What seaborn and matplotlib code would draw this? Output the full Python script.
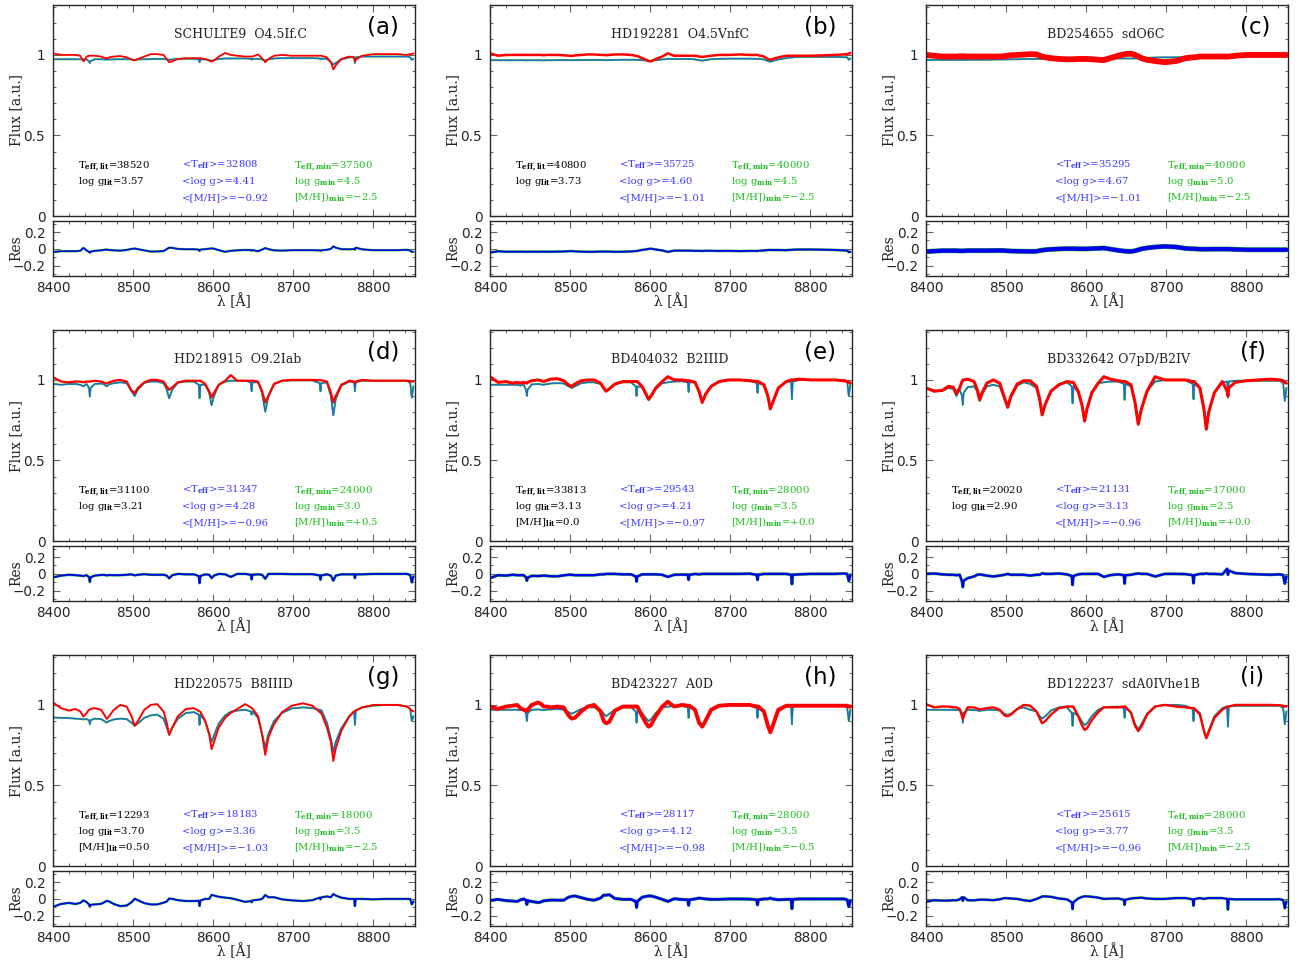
import numpy as np
import matplotlib.pyplot as plt
from matplotlib.ticker import MultipleLocator, FuncFormatter
import seaborn as sns

# wavelength grid (Angstrom) shared by all panels
WAVE = [8400, 8410, 8420, 8428, 8434, 8438, 8442, 8445, 8446, 8447,
        8452, 8460, 8464, 8467, 8470, 8476, 8484, 8492, 8498, 8502,
        8506, 8514, 8522, 8530, 8538, 8542, 8545, 8549, 8556, 8566,
        8576, 8582, 8583, 8584, 8590, 8595, 8598, 8601, 8607, 8615,
        8622, 8630, 8640, 8647, 8648, 8649, 8656, 8661, 8665, 8669,
        8676, 8686, 8698, 8712, 8724, 8733, 8734, 8735, 8742, 8747,
        8750, 8753, 8760, 8770, 8776, 8777, 8778, 8786, 8800, 8815,
        8830, 8842, 8846, 8848, 8850]

A_OBS = [1.01, 1.0, 1.0, 1.0, 0.995, 0.96, 0.99, 0.995, 0.995, 0.995,
         0.995, 0.99, 0.983, 0.978, 0.985, 0.99, 0.993, 0.985, 0.972, 0.965,
         0.975, 0.99, 1.005, 1.005, 1.0, 0.975, 0.955, 0.96, 0.975, 0.98,
         0.98, 0.98, 0.98, 0.98, 0.975, 0.965, 0.958, 0.965, 0.99, 1.012,
         1.0, 0.995, 0.99, 0.99, 0.99, 0.99, 1.003, 0.98, 0.955, 0.975,
         0.995, 1.0, 0.995, 0.995, 0.995, 0.995, 0.995, 0.995, 0.985, 0.955,
         0.91, 0.935, 0.975, 0.99, 0.985, 0.96, 0.97, 0.995, 1.005, 1.005,
         1.005, 1.0, 1.005, 1.005, 1.01]
A_MOD = [0.973, 0.973, 0.973, 0.973, 0.973, 0.972, 0.972, 0.96, 0.95, 0.962,
         0.973, 0.973, 0.972, 0.971, 0.972, 0.973, 0.973, 0.973, 0.972, 0.97,
         0.972, 0.973, 0.974, 0.975, 0.975, 0.972, 0.97, 0.972, 0.975, 0.976,
         0.976, 0.972, 0.955, 0.972, 0.972, 0.968, 0.964, 0.968, 0.975, 0.978,
         0.978, 0.978, 0.978, 0.976, 0.97, 0.976, 0.976, 0.972, 0.965, 0.972,
         0.978, 0.98, 0.98, 0.98, 0.98, 0.978, 0.972, 0.978, 0.975, 0.955,
         0.94, 0.95, 0.972, 0.985, 0.985, 0.95, 0.985, 0.99, 0.99, 0.99,
         0.99, 0.99, 0.985, 0.97, 0.975]

B_OBS = [1.01, 0.995, 1.0, 1.0, 1.0, 1.0, 1.0, 1.0, 1.0, 1.0,
         1.0, 1.0, 1.0, 0.998, 1.0, 1.0, 1.0, 0.998, 0.995, 0.993,
         0.997, 1.0, 1.003, 1.003, 1.0, 1.0, 0.998, 1.0, 1.003, 1.003,
         1.0, 0.995, 0.993, 0.993, 0.98, 0.97, 0.962, 0.96, 0.975, 0.99,
         1.01, 0.995, 0.995, 0.995, 0.995, 0.995, 0.995, 0.99, 0.988, 0.99,
         0.995, 1.0, 1.0, 1.003, 1.0, 1.0, 1.0, 0.998, 0.99, 0.975,
         0.97, 0.975, 0.985, 0.995, 0.995, 0.995, 0.995, 0.995, 0.995, 0.997,
         1.0, 1.003, 1.005, 1.008, 1.012]
B_MOD = [0.967, 0.967, 0.967, 0.967, 0.967, 0.967, 0.967, 0.967, 0.965, 0.967,
         0.967, 0.967, 0.967, 0.966, 0.967, 0.967, 0.968, 0.968, 0.968, 0.967,
         0.968, 0.968, 0.969, 0.969, 0.969, 0.968, 0.967, 0.968, 0.969, 0.97,
         0.97, 0.97, 0.968, 0.97, 0.968, 0.965, 0.962, 0.963, 0.968, 0.972,
         0.975, 0.975, 0.975, 0.975, 0.972, 0.975, 0.972, 0.968, 0.964, 0.968,
         0.973, 0.976, 0.977, 0.977, 0.977, 0.976, 0.975, 0.976, 0.972, 0.962,
         0.958, 0.962, 0.972, 0.98, 0.985, 0.982, 0.986, 0.988, 0.988, 0.988,
         0.988, 0.986, 0.985, 0.97, 0.978]

C_OBS = [1.0, 0.995, 0.99, 0.99, 0.99, 0.99, 0.992, 0.992, 0.992, 0.992,
         0.99, 0.99, 0.99, 0.99, 0.99, 0.99, 0.99, 0.99, 0.992, 0.995,
         0.998, 1.0, 1.002, 1.005, 1.003, 0.995, 0.99, 0.985, 0.98, 0.975,
         0.973, 0.973, 0.973, 0.973, 0.975, 0.975, 0.975, 0.975, 0.973, 0.97,
         0.968, 0.98, 0.995, 1.003, 1.005, 1.005, 1.008, 1.0, 0.99, 0.98,
         0.97, 0.962, 0.955, 0.962, 0.98, 0.985, 0.985, 0.985, 0.99, 0.99,
         0.99, 0.99, 0.99, 0.99, 0.99, 0.99, 0.99, 0.995, 1.0, 1.0,
         1.0, 1.0, 1.0, 1.0, 1.0]
C_MOD = [0.969, 0.969, 0.969, 0.969, 0.969, 0.969, 0.969, 0.969, 0.969, 0.969,
         0.97, 0.97, 0.97, 0.97, 0.97, 0.97, 0.971, 0.972, 0.972, 0.972,
         0.973, 0.973, 0.974, 0.975, 0.975, 0.975, 0.975, 0.975, 0.975, 0.975,
         0.976, 0.976, 0.976, 0.976, 0.976, 0.976, 0.976, 0.976, 0.977, 0.977,
         0.978, 0.978, 0.978, 0.978, 0.978, 0.978, 0.978, 0.978, 0.979, 0.98,
         0.982, 0.984, 0.985, 0.985, 0.986, 0.986, 0.986, 0.986, 0.987, 0.987,
         0.987, 0.987, 0.988, 0.988, 0.988, 0.988, 0.988, 0.989, 0.99, 0.99,
         0.99, 0.99, 0.99, 0.99, 0.99]

D_OBS = [1.017, 0.99, 0.985, 0.99, 0.99, 0.985, 0.99, 0.99, 0.99, 0.99,
         0.995, 0.99, 0.983, 0.978, 0.985, 0.995, 1.0, 0.99, 0.935, 0.917,
         0.95, 0.985, 1.0, 1.0, 0.99, 0.96, 0.938, 0.955, 0.985, 0.995,
         0.995, 0.995, 0.995, 0.995, 0.975, 0.93, 0.892, 0.92, 0.97, 0.995,
         1.03, 0.995, 0.995, 0.995, 0.995, 0.995, 0.99, 0.93, 0.86, 0.9,
         0.975, 0.995, 1.0, 1.0, 1.0, 0.998, 0.998, 0.998, 0.99, 0.92,
         0.86, 0.9, 0.97, 0.995, 0.99, 0.98, 0.99, 1.0, 0.995, 0.995,
         0.995, 0.995, 0.993, 0.99, 0.99]
D_MOD = [0.975, 0.97, 0.975, 0.975, 0.97, 0.96, 0.975, 0.95, 0.896, 0.95,
         0.975, 0.978, 0.972, 0.96, 0.972, 0.98, 0.985, 0.98, 0.93, 0.9,
         0.94, 0.982, 0.99, 0.99, 0.98, 0.94, 0.886, 0.94, 0.985, 0.99,
         0.99, 0.97, 0.886, 0.97, 0.97, 0.92, 0.843, 0.9, 0.97, 0.99,
         0.995, 0.995, 0.995, 0.985, 0.93, 0.985, 0.985, 0.92, 0.803, 0.9,
         0.975, 0.995, 0.997, 0.997, 0.997, 0.98, 0.93, 0.98, 0.985, 0.9,
         0.78, 0.88, 0.965, 0.99, 0.985, 0.93, 0.985, 0.995, 0.995, 0.995,
         0.995, 0.995, 0.98, 0.89, 0.96]

E_OBS = [1.02, 0.985, 0.99, 0.98, 0.985, 0.98, 0.985, 0.98, 0.98, 0.985,
         0.995, 1.0, 0.995, 0.99, 0.995, 1.005, 1.008, 0.995, 0.97, 0.96,
         0.975, 0.995, 1.0, 1.0, 0.98, 0.95, 0.93, 0.945, 0.975, 0.99,
         0.99, 0.99, 0.99, 0.99, 0.96, 0.91, 0.88, 0.9, 0.95, 0.99,
         1.02, 1.0, 1.0, 0.995, 0.995, 0.995, 0.985, 0.93, 0.86, 0.91,
         0.96, 0.99, 1.0, 1.0, 0.995, 0.99, 0.99, 0.99, 0.97, 0.9,
         0.82, 0.86, 0.95, 0.99, 1.0, 1.0, 1.0, 1.005, 1.0, 1.0,
         1.0, 0.995, 0.99, 0.985, 0.98]
E_MOD = [0.97, 0.97, 0.97, 0.97, 0.97, 0.965, 0.97, 0.94, 0.9, 0.94,
         0.972, 0.975, 0.972, 0.97, 0.973, 0.978, 0.98, 0.978, 0.96, 0.95,
         0.96, 0.98, 0.985, 0.985, 0.975, 0.945, 0.93, 0.945, 0.975, 0.985,
         0.985, 0.96, 0.9, 0.96, 0.955, 0.905, 0.875, 0.895, 0.945, 0.98,
         0.985, 0.99, 0.992, 0.985, 0.925, 0.985, 0.985, 0.925, 0.86, 0.91,
         0.96, 0.99, 1.0, 1.0, 0.998, 0.98, 0.92, 0.98, 0.97, 0.9,
         0.82, 0.86, 0.95, 0.99, 0.99, 0.88, 0.99, 1.0, 1.0, 1.0,
         1.0, 1.0, 0.99, 0.9, 0.97]

F_OBS = [0.95, 0.93, 0.935, 0.96, 0.955, 0.915, 0.95, 0.99, 1.0, 1.0,
         1.005, 0.99, 0.94, 0.876, 0.92, 0.98, 1.0, 0.98, 0.89, 0.83,
         0.9, 0.975, 0.995, 0.995, 0.96, 0.88, 0.783, 0.85, 0.93, 0.97,
         0.99, 0.985, 0.985, 0.985, 0.93, 0.84, 0.745, 0.82, 0.92, 0.98,
         1.02, 1.005, 0.995, 0.99, 0.99, 0.99, 0.97, 0.86, 0.725, 0.82,
         0.93, 1.02, 1.0, 1.0, 1.0, 0.99, 0.99, 0.99, 0.95, 0.82,
         0.694, 0.8, 0.92, 0.99, 0.93, 0.9, 0.95, 0.985, 0.995, 1.0,
         1.005, 1.0, 0.995, 0.985, 0.98]
F_MOD = [0.95, 0.935, 0.93, 0.95, 0.945, 0.9, 0.94, 0.9, 0.845, 0.92,
         0.955, 0.96, 0.93, 0.87, 0.91, 0.96, 0.97, 0.96, 0.88, 0.83,
         0.89, 0.965, 0.985, 0.975, 0.95, 0.87, 0.79, 0.85, 0.93, 0.975,
         0.985, 0.96, 0.855, 0.96, 0.925, 0.84, 0.745, 0.82, 0.92, 0.98,
         0.985, 0.99, 0.99, 0.975, 0.876, 0.975, 0.96, 0.86, 0.73, 0.82,
         0.93, 0.99, 1.0, 1.0, 0.998, 0.975, 0.88, 0.975, 0.95, 0.82,
         0.7, 0.8, 0.92, 0.985, 0.99, 0.89, 0.99, 0.995, 0.995, 0.995,
         0.995, 0.995, 0.98, 0.87, 0.95]

G_OBS = [1.015, 0.98, 0.965, 0.975, 0.96, 0.928, 0.95, 0.97, 0.972, 0.975,
         0.98, 0.97, 0.94, 0.913, 0.93, 0.97, 1.0, 0.99, 0.93, 0.87,
         0.9, 0.97, 1.0, 1.005, 0.96, 0.89, 0.814, 0.86, 0.93, 0.975,
         0.98, 0.962, 0.96, 0.958, 0.9, 0.82, 0.725, 0.77, 0.86, 0.92,
         0.95, 0.975, 1.005, 0.985, 0.98, 0.978, 0.93, 0.82, 0.69, 0.8,
         0.88, 0.955, 0.995, 1.01, 0.995, 0.955, 0.955, 0.95, 0.86, 0.77,
         0.652, 0.73, 0.84, 0.93, 0.96, 0.96, 0.965, 0.985, 1.0, 1.0,
         1.0, 0.99, 0.975, 0.965, 0.96]
G_MOD = [0.922, 0.92, 0.918, 0.915, 0.913, 0.91, 0.912, 0.905, 0.88, 0.905,
         0.915, 0.912, 0.9, 0.89, 0.9, 0.91, 0.915, 0.912, 0.89, 0.872,
         0.885, 0.92, 0.935, 0.94, 0.915, 0.86, 0.818, 0.86, 0.915, 0.95,
         0.955, 0.94, 0.876, 0.94, 0.9, 0.82, 0.772, 0.81, 0.885, 0.935,
         0.958, 0.965, 0.97, 0.96, 0.94, 0.96, 0.92, 0.82, 0.735, 0.82,
         0.9, 0.95, 0.978, 0.985, 0.98, 0.97, 0.95, 0.968, 0.89, 0.79,
         0.71, 0.77, 0.855, 0.93, 0.96, 0.876, 0.965, 0.985, 0.995, 1.0,
         1.0, 0.99, 0.975, 0.9, 0.93]

H_OBS = [0.99, 0.975, 0.99, 0.995, 1.0, 0.98, 0.97, 0.965, 0.965, 0.97,
         1.0, 1.015, 1.005, 0.99, 0.99, 0.985, 0.99, 0.985, 0.935, 0.915,
         0.92, 0.96, 0.99, 1.0, 0.96, 0.9, 0.886, 0.895, 0.965, 0.99,
         0.99, 0.99, 0.99, 0.99, 0.93, 0.885, 0.865, 0.875, 0.93, 0.99,
         1.02, 0.99, 1.0, 0.995, 0.995, 0.995, 0.97, 0.89, 0.865, 0.9,
         0.97, 0.995, 1.0, 1.0, 1.0, 0.99, 0.99, 0.99, 0.96, 0.87,
         0.83, 0.87, 0.97, 0.995, 0.995, 0.995, 0.995, 0.995, 0.995, 0.995,
         0.995, 0.995, 0.995, 0.99, 0.99]
H_MOD = [0.97, 0.97, 0.97, 0.97, 0.97, 0.968, 0.97, 0.95, 0.9, 0.95,
         0.97, 0.972, 0.97, 0.968, 0.97, 0.972, 0.975, 0.97, 0.955, 0.945,
         0.955, 0.975, 0.985, 0.985, 0.97, 0.945, 0.93, 0.945, 0.97, 0.985,
         0.985, 0.96, 0.89, 0.96, 0.95, 0.915, 0.9, 0.91, 0.95, 0.985,
         0.99, 0.992, 0.993, 0.985, 0.92, 0.985, 0.97, 0.9, 0.87, 0.9,
         0.965, 0.99, 1.0, 1.0, 0.998, 0.98, 0.92, 0.98, 0.96, 0.87,
         0.84, 0.87, 0.96, 0.99, 0.99, 0.88, 0.99, 0.995, 0.995, 0.995,
         0.995, 0.995, 0.985, 0.9, 0.97]

I_OBS = [1.005, 0.985, 0.99, 0.99, 0.985, 0.985, 0.975, 0.93, 0.913, 0.93,
         0.985, 0.985, 0.978, 0.972, 0.975, 0.98, 0.985, 0.97, 0.935, 0.93,
         0.94, 0.975, 1.0, 0.995, 0.96, 0.915, 0.886, 0.9, 0.94, 0.98,
         0.99, 0.99, 0.99, 0.99, 0.93, 0.87, 0.845, 0.855, 0.905, 0.955,
         0.985, 0.985, 0.985, 0.99, 0.99, 0.99, 0.95, 0.87, 0.838, 0.865,
         0.94, 0.99, 1.0, 0.99, 0.985, 0.98, 0.98, 0.978, 0.94, 0.84,
         0.793, 0.83, 0.92, 0.97, 0.99, 0.99, 0.99, 1.0, 1.0, 1.0,
         1.0, 0.998, 0.995, 0.99, 0.99]
I_MOD = [0.97, 0.97, 0.97, 0.97, 0.97, 0.968, 0.97, 0.95, 0.89, 0.95,
         0.97, 0.968, 0.966, 0.963, 0.966, 0.97, 0.97, 0.965, 0.945, 0.938,
         0.945, 0.975, 0.985, 0.97, 0.96, 0.93, 0.915, 0.93, 0.965, 0.985,
         0.985, 0.95, 0.87, 0.95, 0.935, 0.895, 0.875, 0.885, 0.93, 0.97,
         0.985, 0.988, 0.99, 0.98, 0.92, 0.98, 0.955, 0.88, 0.85, 0.88,
         0.945, 0.99, 1.0, 1.0, 0.995, 0.975, 0.9, 0.975, 0.95, 0.84,
         0.8, 0.84, 0.93, 0.98, 0.99, 0.865, 0.99, 0.995, 0.995, 0.995,
         0.995, 0.995, 0.98, 0.88, 0.96]

OBS = [A_OBS, B_OBS, C_OBS, D_OBS, E_OBS, F_OBS, G_OBS, H_OBS, I_OBS]
MOD = [A_MOD, B_MOD, C_MOD, D_MOD, E_MOD, F_MOD, G_MOD, H_MOD, I_MOD]

NAMES = ['SCHULTE9  O4.5If.C', 'HD192281  O4.5VnfC', 'BD254655  sdO6C',
         'HD218915  O9.2Iab', 'BD404032  B2IIID', 'BD332642 O7pD/B2IV',
         'HD220575  B8IIID', 'BD423227  A0D', 'BD122237  sdA0IVhe1B']
TAGS = ['(a)', '(b)', '(c)', '(d)', '(e)', '(f)', '(g)', '(h)', '(i)']

TEFF_LIT = ['38520', '40800', None, '31100', '33813', '20020', '12293', None, None]
LOGG_LIT = ['3.57', '3.73', None, '3.21', '3.13', '2.90', '3.70', None, None]
MH_LIT = [None, None, None, None, '0.0', None, '0.50', None, None]
TEFF_MEAN = ['32808', '35725', '35295', '31347', '29543', '21131', '18183', '28117', '25615']
LOGG_MEAN = ['4.41', '4.60', '4.67', '4.28', '4.21', '3.13', '3.36', '4.12', '3.77']
MH_MEAN = ['\u22120.92', '\u22121.01', '\u22121.01', '\u22120.96', '\u22120.97',
           '\u22120.96', '\u22121.03', '\u22120.98', '\u22120.96']
TEFF_MIN = ['37500', '40000', '40000', '24000', '28000', '17000', '18000', '28000', '28000']
LOGG_MIN = ['4.5', '4.5', '5.0', '3.0', '3.5', '2.5', '3.5', '3.5', '3.5']
MH_MIN = ['\u22122.5', '\u22122.5', '\u22122.5', '+0.5', '+0.0', '+0.0', '\u22122.5', '\u22120.5', '\u22122.5']

# how thick the noisy observed spectrum looks in each panel
OBS_LW = [1.3, 1.8, 4.2, 1.6, 2.2, 2.2, 1.4, 2.8, 1.7]
RES_LW = [1.1, 1.3, 3.0, 1.3, 1.6, 1.6, 1.2, 1.8, 1.4]

RED = '#ff0000'
MODEL_BLUE = '#2266dd'
RES_BLUE = '#0000ee'
GREEN = '#22bb22'
TXT_BLUE = '#3b3bff'
TXT_GREEN = '#1fbf1f'

sns.set_style('ticks')
plt.rcParams['font.family'] = ['DejaVu Sans']
plt.rcParams['mathtext.fontset'] = 'dejavuserif'
plt.rcParams['axes.linewidth'] = 1.0

fig = plt.figure(figsize=(12.98, 9.63), dpi=100)

LEFT_PX = [53, 490, 926]
TOP_PX = [5, 330, 655]
W_PX, H_MAIN, H_RES, GAP = 362, 211, 55, 5


def add_ax(left, top, width, height):
    return fig.add_axes([left / 1298, 1 - (top + height) / 963, width / 1298, height / 963])


def tick_fmt(v, pos):
    if abs(v) < 1e-9:
        return '0'
    return ('%g' % round(v, 3)).replace('-', '\u2212')


def style_axis(ax):
    ax.set_xlim(8400, 8852)
    ax.xaxis.set_major_locator(MultipleLocator(100))
    ax.xaxis.set_minor_locator(MultipleLocator(20))
    ax.yaxis.set_major_formatter(FuncFormatter(tick_fmt))
    ax.tick_params(which='both', direction='in', top=True, right=True,
                   color='#666666', labelsize=9.8)
    ax.tick_params(which='major', length=5, width=0.8)
    ax.tick_params(which='minor', length=2.5, width=0.7)
    ax.tick_params(axis='x', pad=3.6)
    ax.tick_params(axis='y', pad=5.5)


serif = dict(family='DejaVu Serif')

for k in range(9):
    row, col = k // 3, k % 3
    left, top = LEFT_PX[col], TOP_PX[row]
    obs = np.array(OBS[k])
    mod = np.array(MOD[k])
    res = mod - obs

    ax = add_ax(left, top, W_PX, H_MAIN)
    sns.lineplot(x=WAVE, y=mod, ax=ax, color=GREEN, linewidth=1.4)
    sns.lineplot(x=WAVE, y=mod, ax=ax, color=MODEL_BLUE, linewidth=0.9)
    sns.lineplot(x=WAVE, y=obs, ax=ax, color=RED, linewidth=OBS_LW[k])
    style_axis(ax)
    ax.set_ylim(0, 1.31)
    ax.yaxis.set_major_locator(MultipleLocator(0.5))
    ax.yaxis.set_minor_locator(MultipleLocator(0.1))
    ax.tick_params(labelbottom=False)
    ax.set_xlabel('')
    ax.set_ylabel('Flux [a.u.]', fontsize=10, color='#222222', **serif)
    ax.yaxis.set_label_coords(-0.083, 0.5)

    ax.text(8551, 1.103, NAMES[k], fontsize=9, color='#222222', va='baseline', **serif)
    ax.text(0.868, 0.895, TAGS[k], transform=ax.transAxes, fontsize=16.5,
            ha='left', va='center', color='black')

    txt = dict(fontsize=7.3, va='baseline', **serif)
    ys = [0.30, 0.197, 0.095]
    if TEFF_LIT[k]:
        ax.text(8431, ys[0], r'T$_{\mathbf{eff,lit}}$=' + TEFF_LIT[k], color='black', **txt)
    if LOGG_LIT[k]:
        ax.text(8431, ys[1], r'log g$_{\mathbf{lit}}$=' + LOGG_LIT[k], color='black', **txt)
    if MH_LIT[k]:
        ax.text(8431, ys[2], r'[M/H]$_{\mathbf{lit}}$=' + MH_LIT[k], color='black', **txt)
    ax.text(8561.5, ys[0], r'<T$_{\mathbf{eff}}$>=' + TEFF_MEAN[k], color=TXT_BLUE, **txt)
    ax.text(8561.5, ys[1], '<log g>=' + LOGG_MEAN[k], color=TXT_BLUE, **txt)
    ax.text(8561.5, ys[2], '<[M/H]>=' + MH_MEAN[k], color=TXT_BLUE, **txt)
    ax.text(8700.7, ys[0], r'T$_{\mathbf{eff,min}}$=' + TEFF_MIN[k], color=TXT_GREEN, **txt)
    ax.text(8700.7, ys[1], r'log g$_{\mathbf{min}}$=' + LOGG_MIN[k], color=TXT_GREEN, **txt)
    ax.text(8700.7, ys[2], r'[M/H])$_{\mathbf{min}}$=' + MH_MIN[k], color=TXT_GREEN, **txt)

    rax = add_ax(left, top + H_MAIN + GAP, W_PX, H_RES)
    sns.lineplot(x=WAVE, y=res, ax=rax, color=GREEN, linewidth=RES_LW[k] + 0.6)
    sns.lineplot(x=WAVE, y=res, ax=rax, color=RES_BLUE, linewidth=RES_LW[k])
    style_axis(rax)
    rax.set_ylim(-0.32, 0.33)
    rax.yaxis.set_major_locator(MultipleLocator(0.2))
    rax.yaxis.set_minor_locator(MultipleLocator(0.1))
    rax.set_ylabel('Res', fontsize=10, color='#222222', **serif)
    rax.yaxis.set_label_coords(-0.083, 0.5)
    rax.set_xlabel('\u03bb [\u00c5]', fontsize=10, color='#222222', **serif)
    rax.xaxis.set_label_coords(0.5, -0.31)

fig.savefig('out.png', dpi=100)
